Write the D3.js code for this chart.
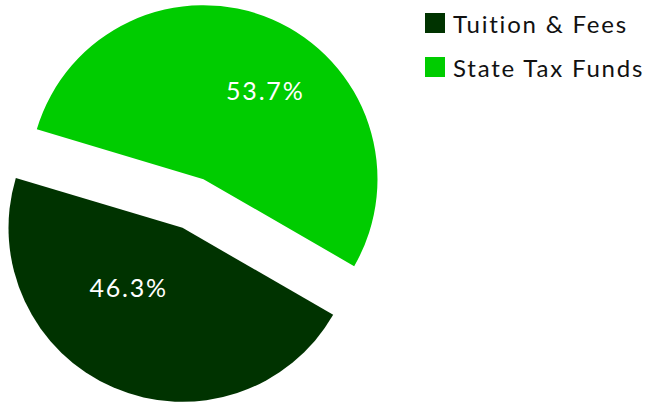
<!DOCTYPE html>
<html><head><meta charset="utf-8">
<script src="https://cdn.jsdelivr.net/npm/d3@7"></script>
<style>html,body{margin:0;padding:0;background:#fff;}svg{display:block;}</style>
</head><body>
<svg id="chart" width="650" height="405"></svg>
<script>
// Data
const categories = ["Tuition & Fees", "State Tax Funds"];
const shares = [46.3, 53.7];
const labels = ["46.3%", "53.7%"];

// Layout / style
const W = 650, H = 405;
const colors = ["#003300", "#00cc00"];
const cx = 193, cy = 203.5, radius = 174, explode = 26.5;
const startDeg = 120;
const labelShiftDeg = [19.3, 10.9];
const labelRadius = [81, 108];
const fontFam = "'Century Gothic','Lato','DejaVu Sans',sans-serif";

const svg = d3.select("#chart");
const pie = d3.pie().sort(null).value(d => d)
  .startAngle(startDeg * Math.PI / 180)
  .endAngle((startDeg + 360) * Math.PI / 180);
const arcs = pie(shares);
const arc = d3.arc().innerRadius(0).outerRadius(radius);

const g = svg.append("g").attr("transform", `translate(${cx},${cy})`);
arcs.forEach((a, i) => {
  const mid = (a.startAngle + a.endAngle) / 2;
  const ox = Math.sin(mid) * explode, oy = -Math.cos(mid) * explode;
  const sg = g.append("g").attr("transform", `translate(${ox},${oy})`);
  sg.append("path").attr("d", arc(a)).attr("fill", colors[i]);
  const la = mid + labelShiftDeg[i] * Math.PI / 180;
  sg.append("text")
    .attr("x", Math.sin(la) * labelRadius[i] + 1)
    .attr("y", -Math.cos(la) * labelRadius[i])
    .attr("text-anchor", "middle")
    .attr("dominant-baseline", "central")
    .attr("fill", "#fff")
    .attr("font-family", fontFam)
    .attr("font-size", 25)
    .attr("letter-spacing", 1.8)
    .text(labels[i]);
});

// Legend
const lg = svg.append("g").attr("transform", "translate(425,13)");
categories.forEach((c, i) => {
  const row = lg.append("g").attr("transform", `translate(0,${i * 44})`);
  row.append("rect").attr("width", 20).attr("height", 20).attr("fill", colors[i]);
  row.append("text").attr("x", 28).attr("y", 20)
    .attr("font-family", fontFam).attr("font-size", 24).attr("fill", "#111")
    .attr("letter-spacing", 1.8)
    .text(c);
});
</script>
</body></html>
